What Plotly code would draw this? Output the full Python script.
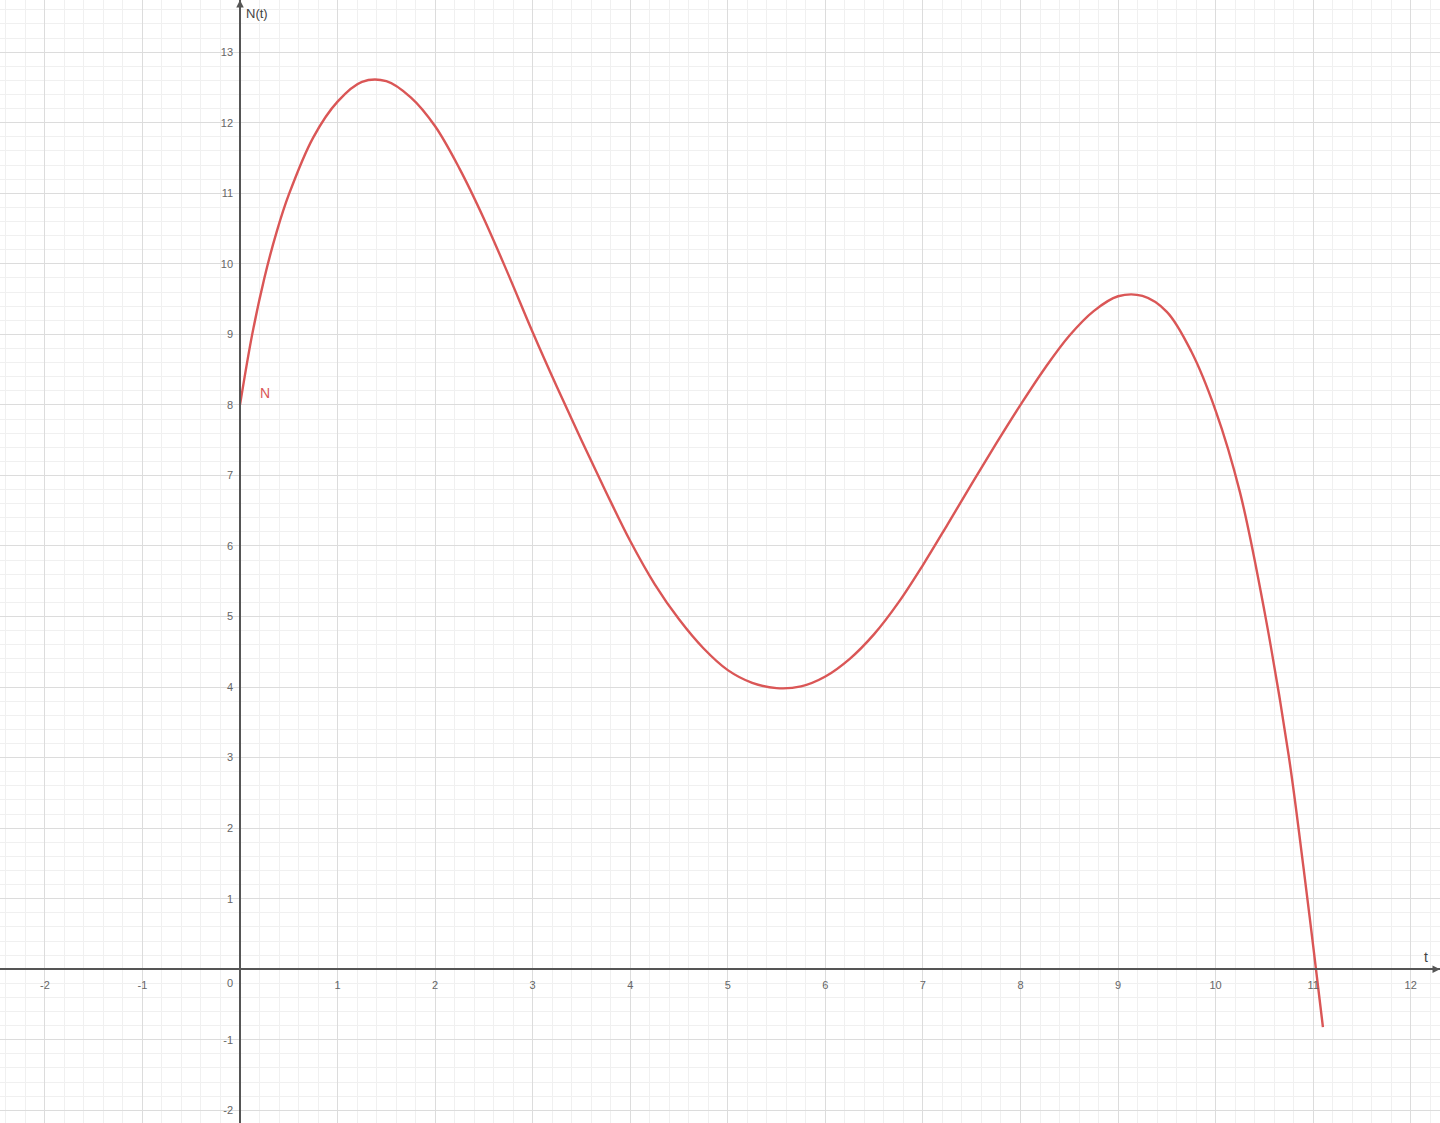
import plotly.graph_objects as go

# Curve N(t), values
t_vals = [0, 0.125, 0.25, 0.375, 0.5, 0.75, 1.0, 1.25, 1.5, 1.75, 2.0, 2.25, 2.5, 2.75,
          3.0, 3.25, 3.5, 3.75, 4.0, 4.25, 4.5, 4.75, 5.0, 5.25, 5.5, 5.75, 6.0, 6.25,
          6.5, 6.75, 7.0, 7.25, 7.5, 7.75, 8.0, 8.25, 8.5, 8.75, 9.0, 9.25, 9.5, 9.75,
          10.0, 10.25, 10.5, 10.75, 10.9, 11.0, 11.1]
n_vals = [8.0, 9.0, 9.8, 10.45, 10.98, 11.79, 12.3, 12.58, 12.59, 12.36, 11.95, 11.35,
          10.64, 9.85, 9.03, 8.25, 7.5, 6.77, 6.07, 5.46, 4.96, 4.55, 4.24, 4.06, 3.985,
          4.01, 4.15, 4.40, 4.75, 5.2, 5.73, 6.3, 6.88, 7.45, 8.0, 8.52, 8.98, 9.33,
          9.54, 9.545, 9.32, 8.76, 7.92, 6.76, 5.08, 3.02, 1.45, 0.33, -0.82]

x_ticks = [-2, -1, 1, 2, 3, 4, 5, 6, 7, 8, 9, 10, 11, 12]
y_ticks = [-2, -1, 1, 2, 3, 4, 5, 6, 7, 8, 9, 10, 11, 12, 13]

curve_name = "N"
x_title = "t"
y_title = "N(t)"

X_RANGE = [-2.46, 12.30]
Y_RANGE = [-2.18, 13.74]
RED = "rgb(218,86,86)"
AXIS = "#555555"
LABEL = "#666666"

fig = go.Figure()
fig.add_trace(go.Scatter(x=t_vals, y=n_vals, mode="lines",
                         line=dict(color=RED, width=2.4, shape="spline", smoothing=1.0),
                         hoverinfo="skip", showlegend=False))

x_pos = (0 - Y_RANGE[0]) / (Y_RANGE[1] - Y_RANGE[0])
y_pos = (0 - X_RANGE[0]) / (X_RANGE[1] - X_RANGE[0])

fig.update_layout(
    width=1440, height=1123,
    margin=dict(l=0, r=0, t=0, b=0),
    paper_bgcolor="white", plot_bgcolor="white",
    font=dict(family="Liberation Sans, Arial, sans-serif", size=11, color=LABEL),
    xaxis=dict(range=X_RANGE, anchor="free", position=x_pos,
               tickvals=x_ticks, ticktext=[str(v) for v in x_ticks],
               showline=True, linecolor=AXIS, linewidth=1.5, zeroline=False,
               showgrid=True, gridcolor="#dcdcdc", gridwidth=1,
               minor=dict(dtick=0.2, tick0=0, showgrid=True, gridcolor="#f0f0f0", gridwidth=1),
               ticks="", ticklabelstandoff=6, tickfont=dict(size=11, color=LABEL)),
    yaxis=dict(range=Y_RANGE, anchor="free", position=y_pos,
               tickvals=y_ticks, ticktext=[str(v) for v in y_ticks],
               showline=True, linecolor=AXIS, linewidth=1.5, zeroline=False,
               showgrid=True, gridcolor="#dcdcdc", gridwidth=1,
               minor=dict(dtick=0.2, tick0=0, showgrid=True, gridcolor="#f0f0f0", gridwidth=1),
               ticks="", ticklabelstandoff=4, tickfont=dict(size=11, color=LABEL)),
)

# "0" label at the origin (left of the y-axis, below the x-axis)
fig.add_annotation(x=0, y=0, text="0", showarrow=False, xanchor="right", yanchor="top",
                   xshift=-5, yshift=-6, font=dict(size=11, color=LABEL))
# axis titles
fig.add_annotation(x=0, y=Y_RANGE[1], text=y_title, showarrow=False, xanchor="left",
                   yanchor="top", xshift=4, yshift=-4, font=dict(size=13, color="#444444"))
fig.add_annotation(x=X_RANGE[1], y=0, text=x_title, showarrow=False, xanchor="right",
                   yanchor="bottom", xshift=-10, yshift=2, font=dict(size=14, color="#444444"))
# curve label
fig.add_annotation(x=0.26, y=8.17, text=curve_name, showarrow=False,
                   font=dict(size=14, color=RED))
# axis arrowheads
fig.add_annotation(x=X_RANGE[1], y=0, ax=-10, ay=0, axref="pixel", ayref="pixel",
                   text="", showarrow=True, arrowhead=2, arrowsize=1, arrowwidth=1.5,
                   arrowcolor=AXIS, standoff=0)
fig.add_annotation(x=0, y=Y_RANGE[1], ax=0, ay=10, axref="pixel", ayref="pixel",
                   text="", showarrow=True, arrowhead=2, arrowsize=1, arrowwidth=1.5,
                   arrowcolor=AXIS, standoff=0)

fig.write_html("out.html", config={"displayModeBar": False},
               post_script="document.body.style.margin='0';")
